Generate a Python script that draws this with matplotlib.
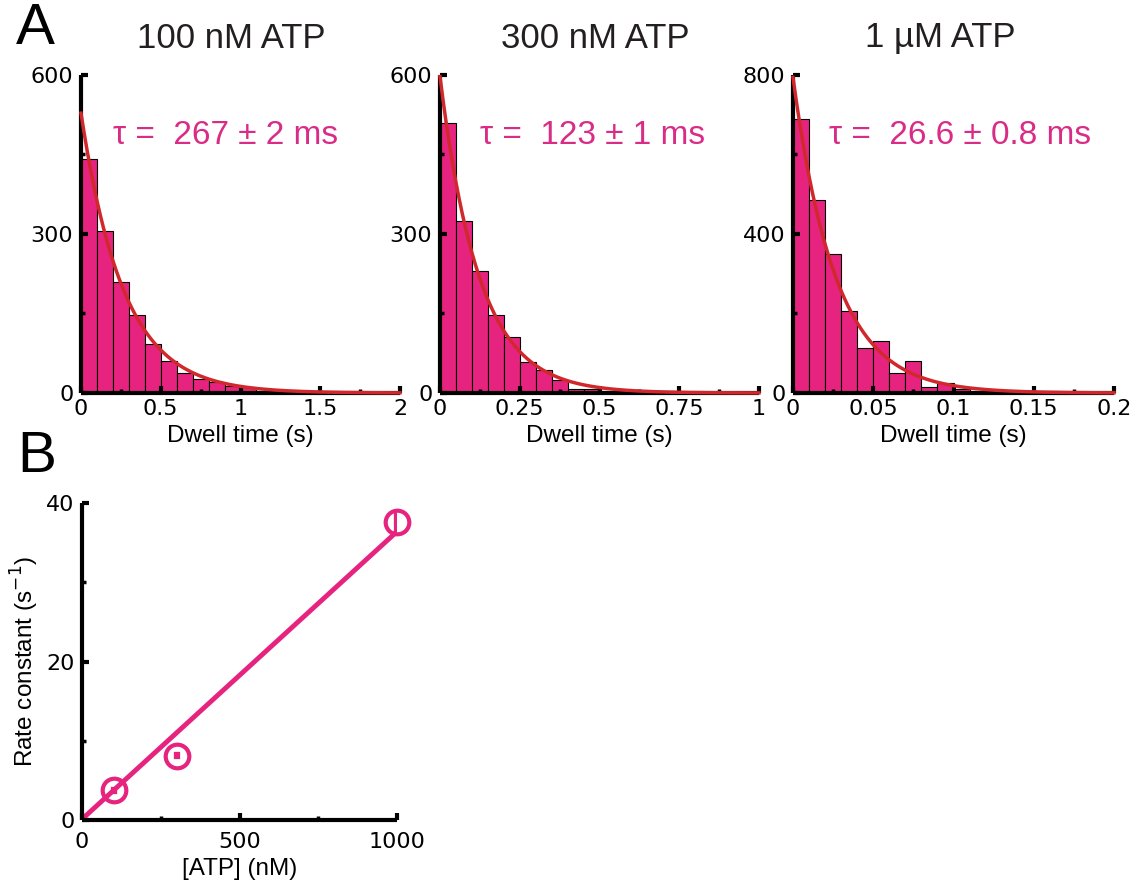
import numpy as np
import matplotlib
matplotlib.use('Agg')
import matplotlib.pyplot as plt
from matplotlib.ticker import MultipleLocator

plt.rcParams['font.family'] = ['Liberation Sans', 'DejaVu Sans']

# Panel A data (histogram counts per bin)
titles = ['100 nM ATP', '300 nM ATP', '1 \u00b5M ATP']
bin_widths = [0.1, 0.05, 0.01]
counts_100 = [442, 305, 209, 147, 93, 60, 38, 27, 21, 14, 12, 3, 2, 1, 1, 2, 1, 1, 1, 0]
counts_300 = [510, 324, 231, 147, 106, 58, 44, 25, 8, 8, 4, 6, 2, 2, 1, 1, 1, 1, 0, 0]
counts_1000 = [689, 486, 349, 206, 114, 131, 50, 80, 16, 25, 10, 6, 3, 2, 2, 1, 1, 1, 1, 1]
counts = [counts_100, counts_300, counts_1000]
fit_amp = [528, 597, 794]
tau_s = [0.267, 0.123, 0.0266]
tau_labels = ['\u03c4 =  267 \u00b1 2 ms', '\u03c4 =  123 \u00b1 1 ms', '\u03c4 =  26.6 \u00b1 0.8 ms']
xmax = [2, 1, 0.2]
ymax = [600, 600, 800]
x_major = [0.5, 0.25, 0.05]
y_major = [300, 300, 400]

# Panel B data
atp_nm = [100, 300, 1000]
rate = [3.75, 8.13, 37.6]
rate_err = [0.03, 0.07, 1.13]
fit_x = [0, 1000]
fit_y = [0.1, 36.4]

bar_color = '#E6247F'
text_color = '#D92C86'
curve_color = '#D0282C'
ink = '#231F20'

fig = plt.figure(figsize=(11.37, 8.86), dpi=100)
W, H = 1137., 886.

def make_ax(x0, y0, x1, y1):
    return fig.add_axes([x0 / W, 1 - y1 / H, (x1 - x0) / W, (y1 - y0) / H])

def style(ax, xpad):
    for s in ['top', 'right']:
        ax.spines[s].set_visible(False)
    for s in ['left', 'bottom']:
        ax.spines[s].set_linewidth(3)
        ax.spines[s].set_capstyle('butt')
    ax.tick_params(which='major', direction='in', length=5, width=3)
    ax.tick_params(which='minor', direction='in', length=3, width=2.5)
    ax.tick_params(axis='x', which='major', pad=xpad)
    ax.tick_params(axis='y', which='major', pad=5.5)
    for lab in ax.get_xticklabels() + ax.get_yticklabels():
        lab.set_fontfamily('DejaVu Sans')
        lab.set_fontsize(16)

boxes = [(81, 75, 400, 393), (440, 75, 759, 393), (793, 75, 1114, 393)]
title_x = [231, 595, 940]
for i in range(3):
    ax = make_ax(*boxes[i])
    c = counts[i]
    edges = np.arange(len(c)) * bin_widths[i]
    ax.bar(edges, c, width=bin_widths[i], align='edge', color=bar_color,
           edgecolor='black', linewidth=0.8)
    t = np.linspace(0, xmax[i], 400)
    ax.plot(t, fit_amp[i] * np.exp(-t / tau_s[i]), color=curve_color, lw=2.5,
            clip_on=False, zorder=3)
    ax.set_xlim(0, xmax[i])
    ax.set_ylim(0, ymax[i])
    ax.xaxis.set_major_locator(MultipleLocator(x_major[i]))
    ax.xaxis.set_minor_locator(MultipleLocator(x_major[i] / 2))
    ax.yaxis.set_major_locator(MultipleLocator(y_major[i]))
    ax.yaxis.set_minor_locator(MultipleLocator(y_major[i] / 2))
    ax.xaxis.set_major_formatter(plt.FuncFormatter(lambda v, p: ('%g' % v)))
    style(ax, 4.5)
    ax.set_xlabel('Dwell time (s)', fontsize=17.5, labelpad=4.5)
    off = [0.10, 0.125, 0.112][i]
    ax.text(off, 0.811, tau_labels[i], transform=ax.transAxes, color=text_color,
            fontsize=24, ha='left', va='center')
    fig.text(title_x[i] / W, 1 - 38 / H, titles[i], fontsize=25, color=ink,
             ha='center', va='center')

fig.text(16 / W, 1 - 29 / H, 'A', fontsize=42, ha='left', va='center')
fig.text(17 / W, 1 - 457 / H, 'B', fontsize=42, ha='left', va='center')

# Panel B
axb = make_ax(82, 503, 397, 820)
axb.plot(fit_x, fit_y, color=bar_color, lw=3.5, zorder=2)
eb = axb.errorbar(atp_nm, rate, yerr=rate_err, fmt='none', ecolor=bar_color,
                  elinewidth=4.5, capsize=0, zorder=3)
for col in eb[2]:
    col.set_capstyle('projecting')
axb.plot(atp_nm, rate, 'o', mfc='none', mec=bar_color, ms=17, mew=3,
         clip_on=False, zorder=4)
axb.set_xlim(0, 1000)
axb.set_ylim(0, 40)
axb.xaxis.set_major_locator(MultipleLocator(500))
axb.xaxis.set_minor_locator(MultipleLocator(250))
axb.yaxis.set_major_locator(MultipleLocator(20))
axb.yaxis.set_minor_locator(MultipleLocator(10))
style(axb, 9)
axb.set_xlabel('[ATP] (nM)', fontsize=17.5, labelpad=4)
axb.set_ylabel('Rate constant (s$^{-1}$)', fontsize=17.5)
axb.yaxis.set_label_coords(-0.13, 0.5)

fig.savefig('out.png', dpi=100)
